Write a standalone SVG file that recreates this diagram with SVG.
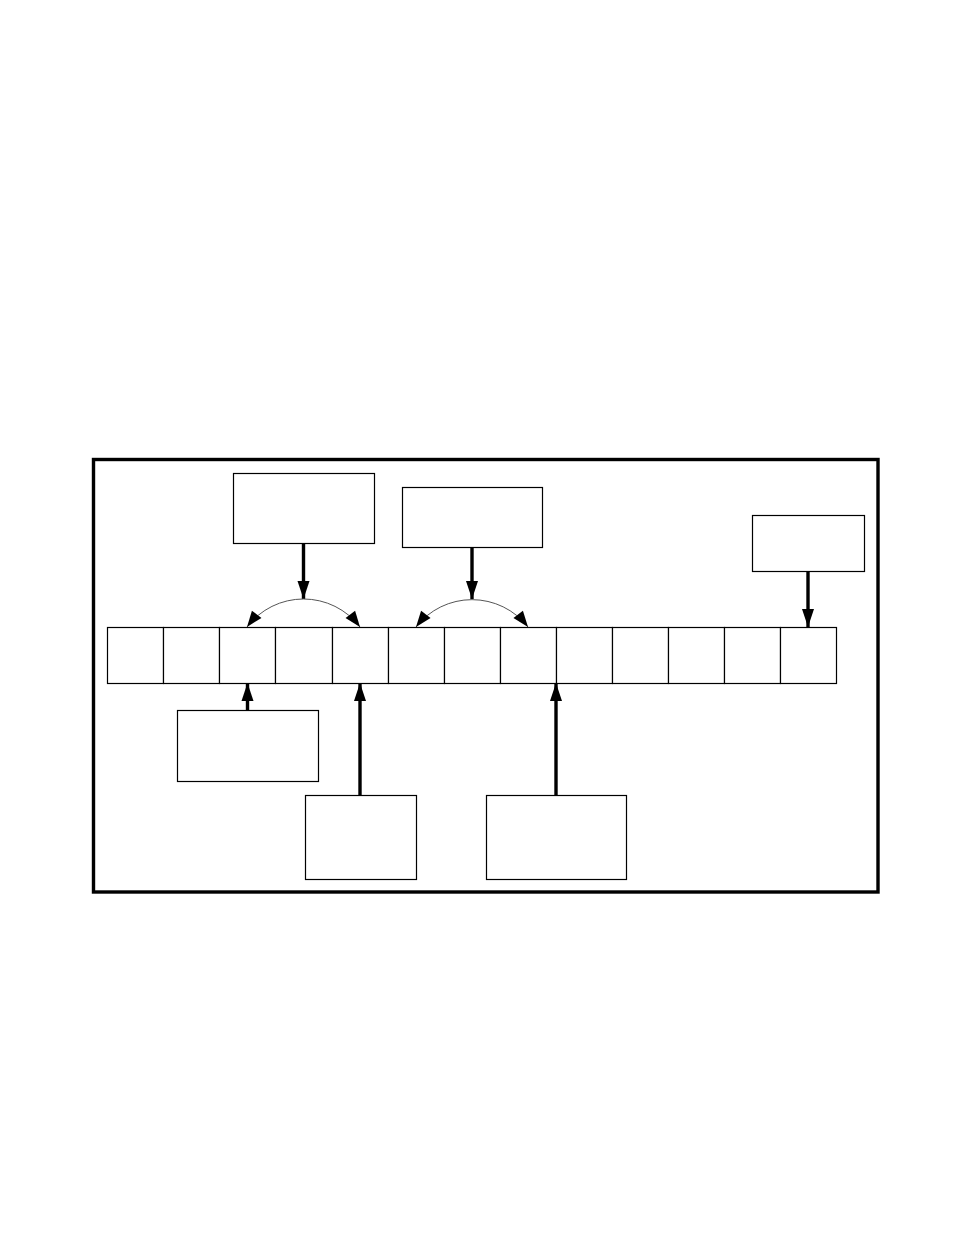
<svg xmlns="http://www.w3.org/2000/svg" width="954" height="1235" viewBox="0 0 954 1235">
<style>
.box{fill:#fff;stroke:#000;stroke-width:1.2}
.cell{fill:#fff;stroke:#000;stroke-width:1.2}
.thick{fill:none;stroke:#000;stroke-width:3.4}
.thin{fill:none;stroke:#555;stroke-width:1}
</style>
<defs>
<marker id="ah" markerUnits="userSpaceOnUse" markerWidth="20" markerHeight="14" refX="18" refY="6" orient="auto" overflow="visible">
<path d="M0,0 L18,6 L0,12 Z" fill="#000"/>
</marker>
<marker id="ahs" markerUnits="userSpaceOnUse" markerWidth="18" markerHeight="14" refX="16" refY="6" orient="auto-start-reverse" overflow="visible">
<path d="M0,0 L16,6 L0,12 Z" fill="#000"/>
</marker>
</defs>
<rect width="954" height="1235" fill="#fff"/>
<rect id="frame" x="93.5" y="459.5" width="784.5" height="432.5" fill="none" stroke="#000" stroke-width="3.4"/>
<g id="cells">
<rect class="cell" x="107.5" y="627.5" width="56" height="56"/>
<rect class="cell" x="163.5" y="627.5" width="56" height="56"/>
<rect class="cell" x="219.5" y="627.5" width="56" height="56"/>
<rect class="cell" x="275.5" y="627.5" width="57" height="56"/>
<rect class="cell" x="332.5" y="627.5" width="56" height="56"/>
<rect class="cell" x="388.5" y="627.5" width="56" height="56"/>
<rect class="cell" x="444.5" y="627.5" width="56" height="56"/>
<rect class="cell" x="500.5" y="627.5" width="56" height="56"/>
<rect class="cell" x="556.5" y="627.5" width="56" height="56"/>
<rect class="cell" x="612.5" y="627.5" width="56" height="56"/>
<rect class="cell" x="668.5" y="627.5" width="56" height="56"/>
<rect class="cell" x="724.5" y="627.5" width="56" height="56"/>
<rect class="cell" x="780.5" y="627.5" width="56" height="56"/>
</g>
<g id="box-top1"><rect class="box" x="233.5" y="473.5" width="141" height="70"/></g>
<g id="box-top2"><rect class="box" x="402.5" y="487.5" width="140" height="60"/></g>
<g id="box-top3"><rect class="box" x="752.5" y="515.5" width="112" height="56"/></g>
<g id="box-bot1"><rect class="box" x="177.5" y="710.5" width="141" height="71"/></g>
<g id="box-bot2"><rect class="box" x="305.5" y="795.5" width="111" height="84"/></g>
<g id="box-bot3"><rect class="box" x="486.5" y="795.5" width="140" height="84"/></g>
<g id="connectors">
<line class="thick" x1="303.5" y1="543" x2="303.5" y2="599" marker-end="url(#ah)"/>
<line class="thick" x1="472" y1="547" x2="472" y2="599" marker-end="url(#ah)"/>
<line class="thick" x1="808" y1="571" x2="808" y2="627" marker-end="url(#ah)"/>
<line class="thick" x1="247.5" y1="711" x2="247.5" y2="683" marker-end="url(#ah)"/>
<line class="thick" x1="360" y1="795" x2="360" y2="683" marker-end="url(#ah)"/>
<line class="thick" x1="556" y1="795" x2="556" y2="683" marker-end="url(#ah)"/>
<path class="thin" d="M247,627 A71,71 0 0 1 360,627" marker-start="url(#ahs)" marker-end="url(#ahs)"/>
<path class="thin" d="M416,627 A71,71 0 0 1 528,627" marker-start="url(#ahs)" marker-end="url(#ahs)"/>
</g>
</svg>
